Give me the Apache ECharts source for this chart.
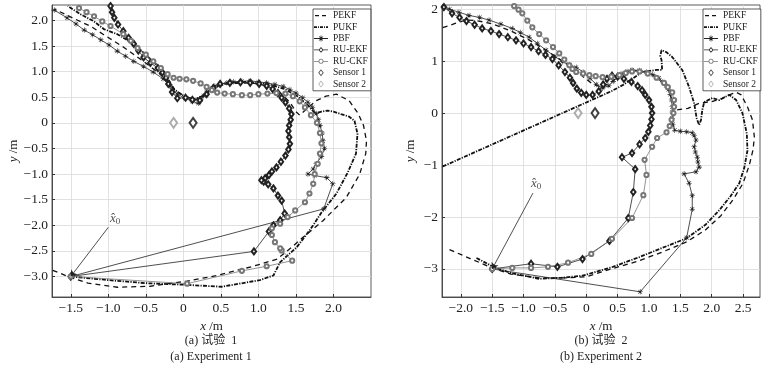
<!DOCTYPE html>
<html><head><meta charset="utf-8">
<script src="https://cdn.jsdelivr.net/npm/echarts@6/dist/echarts.min.js"></script>
<style>html,body{margin:0;padding:0;background:#fff}#c{width:774px;height:371px}</style>
</head><body><div id="c"></div>
<script>
const seriesNames = ['PEKF','PUKF','PBF','RU-EKF','RU-CKF','Sensor 1','Sensor 2'];
const x0 = [-1.5, -3.0];

// ---------- Experiment 1 ----------
const e1_PEKF = [[-1.74,-2.88],[-1.5,-3.02],[-1.27,-3.13],[-0.88,-3.21],[-0.44,-3.19],[0.05,-3.09],[0.45,-2.98],[0.93,-2.8],[1.25,-2.66],[1.45,-2.42],[1.59,-2.24],[1.86,-1.91],[2.17,-1.46],[2.35,-1.0],[2.43,-0.6],[2.44,-0.35],[2.4,-0.05],[2.33,0.18],[2.21,0.43],[2.04,0.56],[1.9,0.52],[1.78,0.44],[1.68,0.32],[1.55,0.15],[1.5,0.22],[1.42,0.4],[1.3,0.57],[1.12,0.72],[0.9,0.78],[0.62,0.77],[0.42,0.7],[0.28,0.55],[0.16,0.45],[0.02,0.52],[-0.1,0.62],[-0.2,0.8],[-0.35,1.0],[-0.55,1.22],[-0.8,1.48],[-1.06,1.72],[-1.23,1.88],[-1.45,2.03],[-1.72,2.22]];
const e1_PUKF = [[-1.5,-3.0],[-1.0,-3.07],[-0.5,-3.13],[0.0,-3.16],[0.51,-3.2],[1.02,-3.07],[1.2,-2.98],[1.29,-2.72],[1.38,-2.6],[1.51,-2.43],[1.65,-2.16],[1.73,-2.0],[1.84,-1.75],[2.04,-1.38],[2.19,-0.97],[2.3,-0.6],[2.32,-0.21],[2.28,0.04],[2.21,0.12],[2.1,0.17],[2.0,0.22],[1.92,0.24],[1.84,0.22],[1.76,0.18],[1.66,0.34],[1.52,0.52],[1.35,0.66],[1.12,0.76],[0.85,0.8],[0.58,0.77],[0.4,0.68],[0.26,0.52],[0.14,0.46],[0.0,0.53],[-0.12,0.65],[-0.19,0.82],[-0.31,1.07],[-0.48,1.3],[-0.66,1.54],[-0.88,1.73],[-1.06,1.83],[-1.19,1.98],[-1.37,2.12],[-1.54,2.28]];
const e1_PBF = [[-1.5,-3.0],[1.87,-1.68],[1.99,-1.19],[1.91,-1.07],[1.75,-1.03],[1.66,-1.0],[1.73,-0.9],[1.77,-0.8],[1.84,-0.66],[1.88,-0.5],[1.86,-0.35],[1.85,-0.2],[1.82,-0.05],[1.8,0.06],[1.77,0.18],[1.72,0.3],[1.66,0.4],[1.59,0.49],[1.5,0.58],[1.42,0.65],[1.33,0.71],[1.22,0.75],[1.11,0.78],[1.0,0.8],[0.89,0.82],[0.78,0.81],[0.67,0.8],[0.58,0.78],[0.49,0.76],[0.42,0.72],[0.36,0.66],[0.31,0.6],[0.27,0.53],[0.23,0.45],[0.2,0.38],[0.12,0.42],[0.02,0.48],[-0.08,0.56],[-0.18,0.72],[-0.27,0.86],[-0.4,0.99],[-0.53,1.1],[-0.66,1.2],[-0.77,1.3],[-0.88,1.4],[-0.99,1.52],[-1.1,1.62],[-1.21,1.72],[-1.32,1.81],[-1.43,1.93],[-1.55,2.05],[-1.72,2.2]];
const e1_RUEKF = [[-1.5,-3.0],[0.94,-2.51],[1.14,-2.12],[1.2,-2.0],[1.29,-1.9],[1.35,-1.77],[1.31,-1.52],[1.26,-1.42],[1.2,-1.28],[1.13,-1.2],[1.07,-1.15],[1.04,-1.12],[1.09,-1.08],[1.14,-1.02],[1.18,-0.95],[1.24,-0.87],[1.3,-0.76],[1.36,-0.64],[1.4,-0.52],[1.42,-0.41],[1.41,-0.28],[1.4,-0.16],[1.41,-0.05],[1.43,0.06],[1.44,0.17],[1.41,0.28],[1.36,0.4],[1.31,0.49],[1.26,0.58],[1.19,0.66],[1.11,0.72],[1.01,0.76],[0.89,0.78],[0.76,0.79],[0.62,0.78],[0.49,0.76],[0.4,0.68],[0.31,0.56],[0.22,0.44],[0.12,0.45],[0.03,0.49],[-0.08,0.48],[-0.15,0.6],[-0.2,0.76],[-0.23,0.88],[-0.28,0.98],[-0.34,1.07],[-0.44,1.17],[-0.53,1.28],[-0.6,1.41],[-0.66,1.54],[-0.73,1.66],[-0.8,1.79],[-0.87,1.92],[-0.92,2.05],[-0.95,2.16],[-0.97,2.28]];
const e1_RUCKF = [[-1.5,-3.0],[0.05,-3.14],[0.78,-2.89],[1.11,-2.8],[1.45,-2.69],[1.31,-2.49],[1.29,-2.45],[1.22,-2.33],[1.18,-2.19],[1.18,-2.06],[1.29,-1.97],[1.39,-1.84],[1.49,-1.71],[1.62,-1.55],[1.68,-1.38],[1.73,-1.19],[1.75,-1.0],[1.79,-0.8],[1.82,-0.6],[1.84,-0.4],[1.82,-0.2],[1.78,0.0],[1.7,0.15],[1.62,0.3],[1.55,0.42],[1.46,0.52],[1.36,0.57],[1.24,0.58],[1.12,0.57],[1.0,0.56],[0.89,0.54],[0.78,0.54],[0.66,0.56],[0.55,0.57],[0.45,0.59],[0.38,0.64],[0.31,0.7],[0.23,0.77],[0.13,0.82],[0.04,0.85],[-0.05,0.86],[-0.13,0.88],[-0.21,0.95],[-0.3,1.07],[-0.4,1.2],[-0.5,1.33],[-0.61,1.46],[-0.7,1.6],[-0.8,1.73],[-0.97,1.89],[-1.08,1.98],[-1.19,2.08],[-1.29,2.16],[-1.39,2.24]];
const e1_Sensor1 = [[0.13,0]];
const e1_Sensor2 = [[-0.13,0]];
const e1_xTicks = [-1.5,-1.0,-0.5,0,0.5,1.0,1.5,2.0];
const e1_yTicks = [-3.0,-2.5,-2.0,-1.5,-1.0,-0.5,0,0.5,1.0,1.5,2.0];

// ---------- Experiment 2 ----------
const e2_PEKF = [[-2.18,-2.63],[-1.85,-2.8],[-1.5,-2.98],[-1.2,-3.1],[-0.75,-3.17],[-0.3,-3.17],[0.0,-3.15],[0.4,-3.0],[0.8,-2.86],[1.2,-2.68],[1.6,-2.48],[1.9,-2.25],[2.15,-1.97],[2.35,-1.65],[2.5,-1.35],[2.6,-1.0],[2.66,-0.7],[2.68,-0.46],[2.65,-0.13],[2.57,0.12],[2.47,0.35],[2.39,0.4],[2.28,0.35],[2.16,0.28],[2.0,0.22],[1.8,0.19],[1.62,0.09],[1.43,0.06],[1.37,0.25],[1.3,0.45],[1.18,0.63],[1.0,0.77],[0.75,0.82],[0.55,0.75],[0.4,0.6],[0.25,0.5],[0.1,0.56],[-0.05,0.7],[-0.2,0.85],[-0.5,1.1],[-0.9,1.4],[-1.2,1.58],[-1.5,1.72],[-1.75,1.78],[-1.92,1.79],[-2.1,1.72],[-2.3,1.64]];
const e2_PUKF = [[-1.75,-2.79],[-1.48,-2.96],[-1.2,-3.08],[-0.75,-3.19],[-0.4,-3.17],[-0.06,-3.13],[0.4,-2.97],[0.85,-2.77],[1.2,-2.6],[1.6,-2.41],[1.9,-2.15],[2.12,-1.87],[2.3,-1.6],[2.44,-1.35],[2.52,-1.05],[2.57,-0.72],[2.56,-0.4],[2.49,0.0],[2.39,0.25],[2.28,0.35],[2.2,0.3],[2.12,0.25],[2.01,0.29],[1.88,0.21],[1.85,0.06],[1.83,-0.13],[1.8,-0.23],[1.76,-0.1],[1.72,0.19],[1.64,0.5],[1.53,0.83],[1.37,1.08],[1.28,1.17],[1.2,1.21],[1.18,1.1],[1.2,1.02],[1.21,0.83],[1.12,0.83],[0.89,0.79],[0.6,0.55],[0.4,0.42],[-2.31,-1.04]];
const e2_PBF = [[-1.5,-3.0],[0.86,-3.44],[1.6,-2.4],[1.69,-1.85],[1.69,-1.59],[1.64,-1.35],[1.56,-1.17],[1.75,-1.13],[1.8,-1.04],[1.78,-0.94],[1.77,-0.85],[1.74,-0.75],[1.72,-0.65],[1.75,-0.52],[1.72,-0.43],[1.69,-0.38],[1.6,-0.36],[1.5,-0.35],[1.41,-0.33],[1.38,-0.22],[1.37,-0.1],[1.37,0.02],[1.37,0.12],[1.36,0.25],[1.34,0.36],[1.31,0.45],[1.27,0.53],[1.22,0.6],[1.16,0.67],[1.06,0.74],[0.96,0.79],[0.85,0.82],[0.73,0.83],[0.65,0.8],[0.57,0.76],[0.5,0.69],[0.43,0.61],[0.36,0.53],[0.26,0.48],[0.16,0.55],[0.06,0.67],[-0.05,0.79],[-0.16,0.88],[-0.27,0.93],[-0.38,0.99],[-0.5,1.09],[-0.64,1.21],[-0.78,1.34],[-0.91,1.46],[-1.05,1.55],[-1.18,1.63],[-1.36,1.71],[-1.55,1.79],[-1.7,1.84],[-1.87,1.88],[-2.03,1.94],[-2.18,2.0],[-2.27,2.04]];
const e2_RUEKF = [[-1.5,-3.0],[-0.88,-2.9],[-0.46,-2.96],[-0.06,-2.81],[0.37,-2.46],[0.67,-2.02],[0.75,-1.52],[0.78,-1.08],[0.57,-0.85],[0.73,-0.77],[0.85,-0.6],[0.94,-0.48],[0.99,-0.36],[1.02,-0.24],[1.04,-0.12],[1.05,0.0],[1.04,0.12],[1.0,0.25],[0.94,0.35],[0.89,0.44],[0.82,0.52],[0.72,0.6],[0.6,0.66],[0.5,0.7],[0.41,0.72],[0.33,0.66],[0.27,0.55],[0.2,0.42],[0.1,0.35],[0.0,0.35],[-0.08,0.39],[-0.15,0.47],[-0.21,0.58],[-0.26,0.68],[-0.34,0.79],[-0.44,0.92],[-0.54,1.04],[-0.65,1.12],[-0.76,1.19],[-0.88,1.27],[-1.0,1.34],[-1.12,1.4],[-1.25,1.46],[-1.39,1.52],[-1.52,1.58],[-1.66,1.63],[-1.78,1.7],[-1.91,1.77],[-2.02,1.84],[-2.14,1.92],[-2.27,2.04]];
const e2_RUCKF = [[-1.5,-3.0],[-1.18,-2.98],[-0.88,-2.98],[-0.61,-2.96],[-0.29,-2.88],[0.08,-2.71],[0.41,-2.42],[0.73,-2.02],[0.91,-1.58],[0.96,-1.19],[0.93,-0.9],[1.05,-0.65],[1.13,-0.48],[1.28,-0.37],[1.33,-0.25],[1.36,-0.13],[1.39,0.0],[1.4,0.12],[1.4,0.25],[1.37,0.4],[1.3,0.5],[1.24,0.58],[1.12,0.68],[0.98,0.76],[0.85,0.8],[0.73,0.8],[0.63,0.77],[0.53,0.73],[0.4,0.7],[0.26,0.69],[0.15,0.71],[0.05,0.73],[-0.05,0.76],[-0.16,0.79],[-0.22,0.85],[-0.27,0.92],[-0.35,1.03],[-0.43,1.15],[-0.53,1.27],[-0.64,1.4],[-0.75,1.52],[-0.86,1.65],[-0.94,1.78],[-1.02,1.92],[-1.08,1.99],[-1.15,2.06]];
const e2_Sensor1 = [[0.14,0]];
const e2_Sensor2 = [[-0.13,0]];
const e2_xTicks = [-2.0,-1.5,-1.0,-0.5,0,0.5,1.0,1.5,2.0,2.5];
const e2_yTicks = [-3,-2,-1,0,1,2];

// annotation (x-hat-0 label and arrow tail), data coordinates
const e1_annotText = [-0.91,-1.86];
const e1_annotTail = [-1.0,-2.04];
const e2_annotText = [-0.8,-1.35];
const e2_annotTail = [-0.85,-1.54];

const captions = [['(a) 试验  1','(a) Experiment 1'],['(b) 试验  2','(b) Experiment 2']];

const SERIF = '"Liberation Serif","Times New Roman",serif';
const STAR = 'path://M-0.5,-5L0.5,-5L0.5,5L-0.5,5Z M-5,-0.5L5,-0.5L5,0.5L-5,0.5Z M-3.9,-3.2L-3.2,-3.9L3.9,3.2L3.2,3.9Z M3.2,-3.9L3.9,-3.2L-3.2,3.9L-3.9,3.2Z';

// legend icons (14 x 7 box; corner specks fix the bounding box)
const SPECK = 'M0,0L0.01,0L0,0.01Z M14,7L13.99,7L14,6.99Z ';
const ICONS = {
  'PEKF': 'path://' + SPECK + 'M1,2.9L5,2.9L5,4.1L1,4.1Z M8,2.9L12,2.9L12,4.1L8,4.1Z',
  'PUKF': 'path://' + SPECK + 'M0,2.7L3,2.7L3,4.3L0,4.3Z M4,2.7L4.9,2.7L4.9,4.3L4,4.3Z M6,2.7L9,2.7L9,4.3L6,4.3Z M10,2.7L10.9,2.7L10.9,4.3L10,4.3Z M12,2.7L14,2.7L14,4.3L12,4.3Z',
  'PBF': 'path://' + SPECK + 'M0,3.1L14,3.1L14,3.9L0,3.9Z M6.6,0.6L7.4,0.6L7.4,6.4L6.6,6.4Z M4.1,3.1L9.9,3.1L9.9,3.9L4.1,3.9Z M4.8,1.8L5.3,1.3L9.2,5.2L8.7,5.7Z M8.7,1.3L9.2,1.8L5.3,5.7L4.8,5.2Z',
  'RU-EKF': 'path://' + SPECK + 'M0,3.1L4.7,3.1L4.7,3.9L0,3.9Z M9.3,3.1L14,3.1L14,3.9L9.3,3.9Z M7,0.7L9.6,3.5L7,6.3L4.4,3.5Z M7,1.8L5.5,3.5L7,5.2L8.5,3.5Z',
  'RU-CKF': 'path://' + SPECK + 'M0,3.1L4.6,3.1L4.6,3.9L0,3.9Z M9.4,3.1L14,3.1L14,3.9L9.4,3.9Z M9.5,3.5A2.5,2.5,0,1,1,4.5,3.5A2.5,2.5,0,1,1,9.5,3.5Z M8.7,3.5A1.7,1.7,0,1,0,5.3,3.5A1.7,1.7,0,1,0,8.7,3.5Z',
  'Sensor 1': 'path://' + SPECK + 'M7,-0.6L10.2,3.5L7,7.6L3.8,3.5Z M7,0.8L5,3.5L7,6.2L9,3.5Z',
  'Sensor 2': 'path://' + SPECK + 'M7,-0.6L10.2,3.5L7,7.6L3.8,3.5Z M7,0.8L5,3.5L7,6.2L9,3.5Z'
};

const styles = {
  'PEKF':   {type:'line', symbol:'none', lineStyle:{color:'#111', width:1.3, type:[5,4]}, itemStyle:{color:'#111'}, z:3},
  'PUKF':   {type:'line', symbol:'none', lineStyle:{color:'#111', width:1.8, type:[4,1.3,1.2,1.3]}, itemStyle:{color:'#111'}, z:3},
  'PBF':    {type:'line', symbolSize:5.5, lineStyle:{color:'#222', width:0.8}, itemStyle:{color:'#222'}, z:4},
  'RU-EKF': {type:'line', symbol:'emptyDiamond', symbolSize:[4.5,6], lineStyle:{color:'#222', width:0.8}, itemStyle:{color:'#222', borderWidth:0.8}, z:5},
  'RU-CKF': {type:'line', symbol:'emptyCircle', symbolSize:4.2, lineStyle:{color:'#777', width:0.8}, itemStyle:{color:'#777', borderWidth:0.8}, z:5},
  'Sensor 1': {type:'scatter', symbol:'emptyDiamond', symbolSize:[7,10], itemStyle:{color:'#111', borderWidth:1.1}, z:6},
  'Sensor 2': {type:'scatter', symbol:'emptyDiamond', symbolSize:[7,10], itemStyle:{color:'#999', borderWidth:1.1}, z:6}
};

function mk(name, data, gi) {
  const s = Object.assign({name, data, xAxisIndex:gi, yAxisIndex:gi, showAllSymbol:true, animation:false, silent:true}, JSON.parse(JSON.stringify(styles[name])));
  if (name === 'PBF') s.symbol = STAR;
  return s;
}

const sets = [
  {PEKF:e1_PEKF, PUKF:e1_PUKF, PBF:e1_PBF, 'RU-EKF':e1_RUEKF, 'RU-CKF':e1_RUCKF, 'Sensor 1':e1_Sensor1, 'Sensor 2':e1_Sensor2},
  {PEKF:e2_PEKF, PUKF:e2_PUKF, PBF:e2_PBF, 'RU-EKF':e2_RUEKF, 'RU-CKF':e2_RUCKF, 'Sensor 1':e2_Sensor1, 'Sensor 2':e2_Sensor2}
];
const annots = [[e1_annotText, e1_annotTail],[e2_annotText, e2_annotTail]];

const series = [];
sets.forEach((set, gi) => {
  seriesNames.forEach(n => series.push(mk(n, set[n], gi)));
  series.push({type:'lines', coordinateSystem:'cartesian2d', xAxisIndex:gi, yAxisIndex:gi, silent:true, animation:false, z:7,
    symbol:['none','arrow'], symbolSize:6,
    lineStyle:{color:'#222', width:0.8, opacity:1},
    data:[{coords:[annots[gi][1], x0]}]});
  series.push({type:'scatter', xAxisIndex:gi, yAxisIndex:gi, silent:true, animation:false, symbolSize:0, z:7,
    data:[annots[gi][0]],
    label:{show:true, position:'inside', formatter:'{x|x\u0302}{s|0}',
      rich:{x:{fontFamily:SERIF, fontStyle:'italic', fontSize:13, color:'#222'}, s:{fontFamily:SERIF, fontSize:9, color:'#222', padding:[7,0,0,0]}}}});
});

const fmt1 = v => (v < 0 ? '\u2212' : '') + (v === 0 ? '0' : Math.abs(v).toFixed(1));
const fmt0 = v => (v < 0 ? '\u2212' : '') + Math.abs(v);

function xAx(gi, min, max, ticks, fmt) {
  return {gridIndex:gi, type:'value', min, max,
    axisLine:{show:true, onZero:false, lineStyle:{color:'#333', width:0.8}},
    axisTick:{show:true, inside:true, length:3, customValues:ticks, lineStyle:{color:'#333'}},
    axisLabel:{customValues:ticks, formatter:fmt, fontFamily:SERIF, fontSize:13.5, color:'#222', margin:4},
    splitLine:{show:true, lineStyle:{color:'#d9d9d9', width:0.8}},
    name:'{i|x} /m', nameLocation:'middle', nameGap:17,
    nameTextStyle:{fontFamily:SERIF, fontSize:13, color:'#222', rich:{i:{fontFamily:SERIF, fontStyle:'italic', fontSize:13, color:'#222'}}}};
}
function yAx(gi, min, max, ticks, fmt, gap) {
  return {gridIndex:gi, type:'value', min, max,
    axisLine:{show:true, onZero:false, lineStyle:{color:'#333', width:0.8}},
    axisTick:{show:true, inside:true, length:3, customValues:ticks, lineStyle:{color:'#333'}},
    axisLabel:{customValues:ticks, formatter:fmt, fontFamily:SERIF, fontSize:13.5, color:'#222', margin:4},
    splitLine:{show:true, lineStyle:{color:'#d9d9d9', width:0.8}},
    name:'{i|y} /m', nameLocation:'middle', nameGap:gap, nameRotate:90,
    nameTextStyle:{fontFamily:SERIF, fontSize:13, color:'#222', rich:{i:{fontFamily:SERIF, fontStyle:'italic', fontSize:13, color:'#222'}}}};
}

function legendAt(left) {
  return {left, top:9, orient:'vertical', itemGap:0, itemWidth:14, itemHeight:7, padding:[1,3,1,1],
    borderColor:'#333', borderWidth:0.8, backgroundColor:'#fff', selectedMode:false,
    itemStyle:{borderWidth:0},
    textStyle:{fontFamily:SERIF, fontSize:9.5, color:'#222', lineHeight:11.4},
    data:seriesNames.map(n => ({name:n, icon:ICONS[n]}))};
}

const graphic = [];
[[211,0],[601,1]].forEach(([cx,i]) => {
  graphic.push({type:'text', x:cx, y:341, silent:true, style:{text:captions[i][0], align:'center', verticalAlign:'middle', fontSize:12, fontFamily:'"Liberation Serif","Noto Sans CJK SC",serif', fill:'#222'}});
  graphic.push({type:'text', x:cx, y:357, silent:true, style:{text:captions[i][1], align:'center', verticalAlign:'middle', fontSize:12, fontFamily:SERIF, fill:'#222'}});
});

const chart = echarts.init(document.getElementById('c'), null, {renderer:'canvas'});
chart.setOption({
  animation:false,
  backgroundColor:'#fff',
  grid:[
    {left:52, top:5, width:319, height:292, show:true, borderColor:'#333', borderWidth:0.8, containLabel:false},
    {left:442, top:5, width:318, height:292, show:true, borderColor:'#333', borderWidth:0.8, containLabel:false}
  ],
  xAxis:[xAx(0,-1.75,2.5,e1_xTicks,fmt1), xAx(1,-2.3,2.77,e2_xTicks,fmt1)],
  yAxis:[yAx(0,-3.4,2.3,e1_yTicks,fmt1,31), yAx(1,-3.54,2.08,e2_yTicks,fmt0,25)],
  legend:[legendAt(313), legendAt(703)],
  graphic,
  series
});
</script>
</body></html>
